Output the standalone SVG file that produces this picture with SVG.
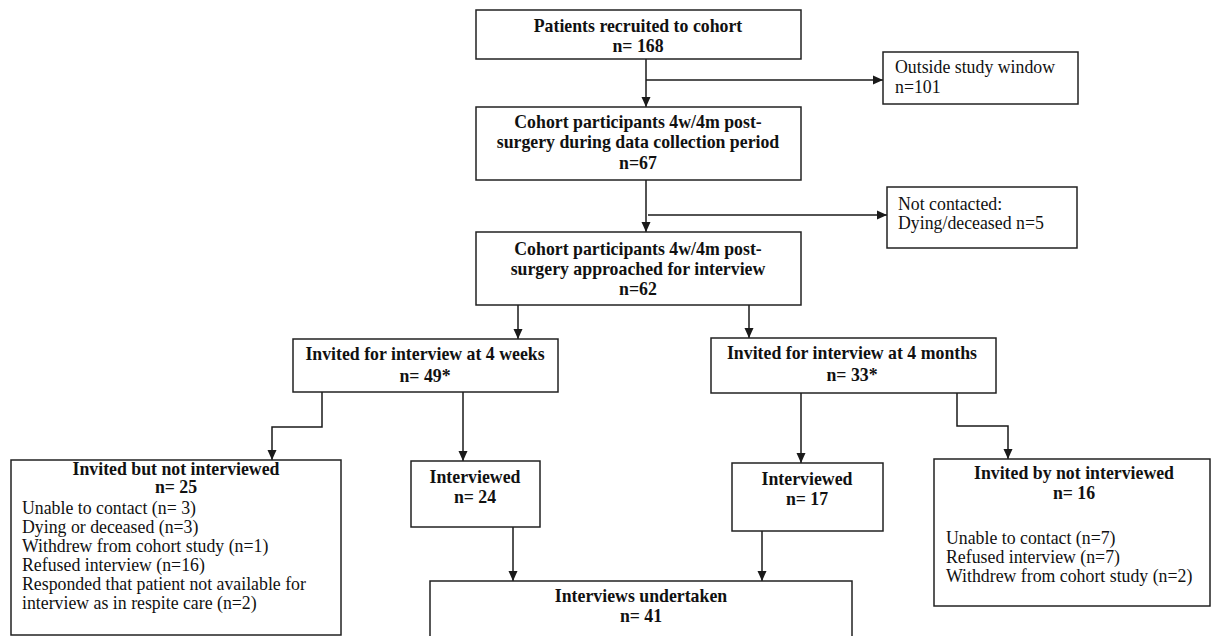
<svg xmlns="http://www.w3.org/2000/svg" width="1212" height="636" viewBox="0 0 1212 636">
<defs>
<marker id="arr" markerUnits="userSpaceOnUse" markerWidth="10" markerHeight="10" refX="10" refY="5" orient="auto">
<path d="M0,0.5 L10,5 L0,9.5 z" fill="#1a1a1a"/>
</marker>
<style>
.box{fill:#fff;stroke:#222;stroke-width:1.5}
.c{fill:none;stroke:#1a1a1a;stroke-width:1.5;marker-end:url(#arr)}
text{font-family:"Liberation Serif","Times New Roman",serif;font-size:17.8px;fill:#111}
.b{font-weight:bold;text-anchor:middle}
</style>
</defs>
<rect width="1212" height="636" fill="#fff"/>
<g id="connectors">
<path class="c" d="M646,59 V107"/>
<path class="c" d="M646,80 H883"/>
<path class="c" d="M646,180 V232"/>
<path class="c" d="M648,215 H887"/>
<path class="c" d="M518,305 V339"/>
<path class="c" d="M749,305 V338"/>
<path class="c" d="M322,392 V427 H272 V460"/>
<path class="c" d="M463,392 V461"/>
<path class="c" d="M801,393 V463"/>
<path class="c" d="M957,393 V426 H1008 V459"/>
<path class="c" d="M513,527 V581"/>
<path class="c" d="M762,531 V581"/>
</g>
<g id="recruited">
<rect class="box" x="476" y="10" width="325" height="49"/>
<text class="b" x="638" y="32">Patients recruited to cohort</text>
<text class="b" x="638" y="52">n= 168</text>
</g>
<g id="outside">
<rect class="box" x="883" y="52" width="195" height="52"/>
<text x="895" y="73">Outside study window</text>
<text x="895" y="93">n=101</text>
</g>
<g id="participants">
<rect class="box" x="476" y="107" width="325" height="73"/>
<text class="b" x="638" y="128">Cohort participants 4w/4m post-</text>
<text class="b" x="638" y="148">surgery during data collection period</text>
<text class="b" x="638" y="169">n=67</text>
</g>
<g id="notcontacted">
<rect class="box" x="887" y="187" width="190" height="61"/>
<text x="898" y="210">Not contacted:</text>
<text x="898" y="229">Dying/deceased n=5</text>
</g>
<g id="approached">
<rect class="box" x="476" y="232" width="325" height="73"/>
<text class="b" x="638" y="255">Cohort participants 4w/4m post-</text>
<text class="b" x="638" y="275">surgery approached for interview</text>
<text class="b" x="638" y="295">n=62</text>
</g>
<g id="invited4w">
<rect class="box" x="293" y="339" width="265" height="53"/>
<text class="b" x="425" y="360">Invited for interview at 4 weeks</text>
<text class="b" x="425" y="382">n= 49*</text>
</g>
<g id="invited4m">
<rect class="box" x="711" y="338" width="285" height="55"/>
<text class="b" x="852" y="359">Invited for interview at 4 months</text>
<text class="b" x="852" y="381">n= 33*</text>
</g>
<g id="notinterviewed4w">
<rect class="box" x="11" y="460" width="330" height="175"/>
<text class="b" x="176" y="475">Invited but not interviewed</text>
<text class="b" x="176" y="493">n= 25</text>
<text x="22" y="514">Unable to contact (n= 3)</text>
<text x="22" y="533">Dying or deceased (n=3)</text>
<text x="22" y="552">Withdrew from cohort study (n=1)</text>
<text x="22" y="571">Refused interview (n=16)</text>
<text x="22" y="590">Responded that patient not available for</text>
<text x="22" y="609">interview as in respite care (n=2)</text>
</g>
<g id="interviewed4w">
<rect class="box" x="411" y="461" width="129" height="66"/>
<text class="b" x="475" y="483">Interviewed</text>
<text class="b" x="475" y="503">n= 24</text>
</g>
<g id="interviewed4m">
<rect class="box" x="732" y="463" width="151" height="68"/>
<text class="b" x="807" y="485">Interviewed</text>
<text class="b" x="807" y="505">n= 17</text>
</g>
<g id="notinterviewed4m">
<rect class="box" x="934" y="459" width="276" height="147"/>
<text class="b" x="1074" y="479">Invited by not interviewed</text>
<text class="b" x="1074" y="499">n= 16</text>
<text x="946" y="544">Unable to contact (n=7)</text>
<text x="946" y="563">Refused interview (n=7)</text>
<text x="946" y="582">Withdrew from cohort study (n=2)</text>
</g>
<g id="undertaken">
<rect class="box" x="430" y="581" width="422" height="62"/>
<text class="b" x="641" y="602">Interviews undertaken</text>
<text class="b" x="641" y="622">n= 41</text>
</g>
</svg>
